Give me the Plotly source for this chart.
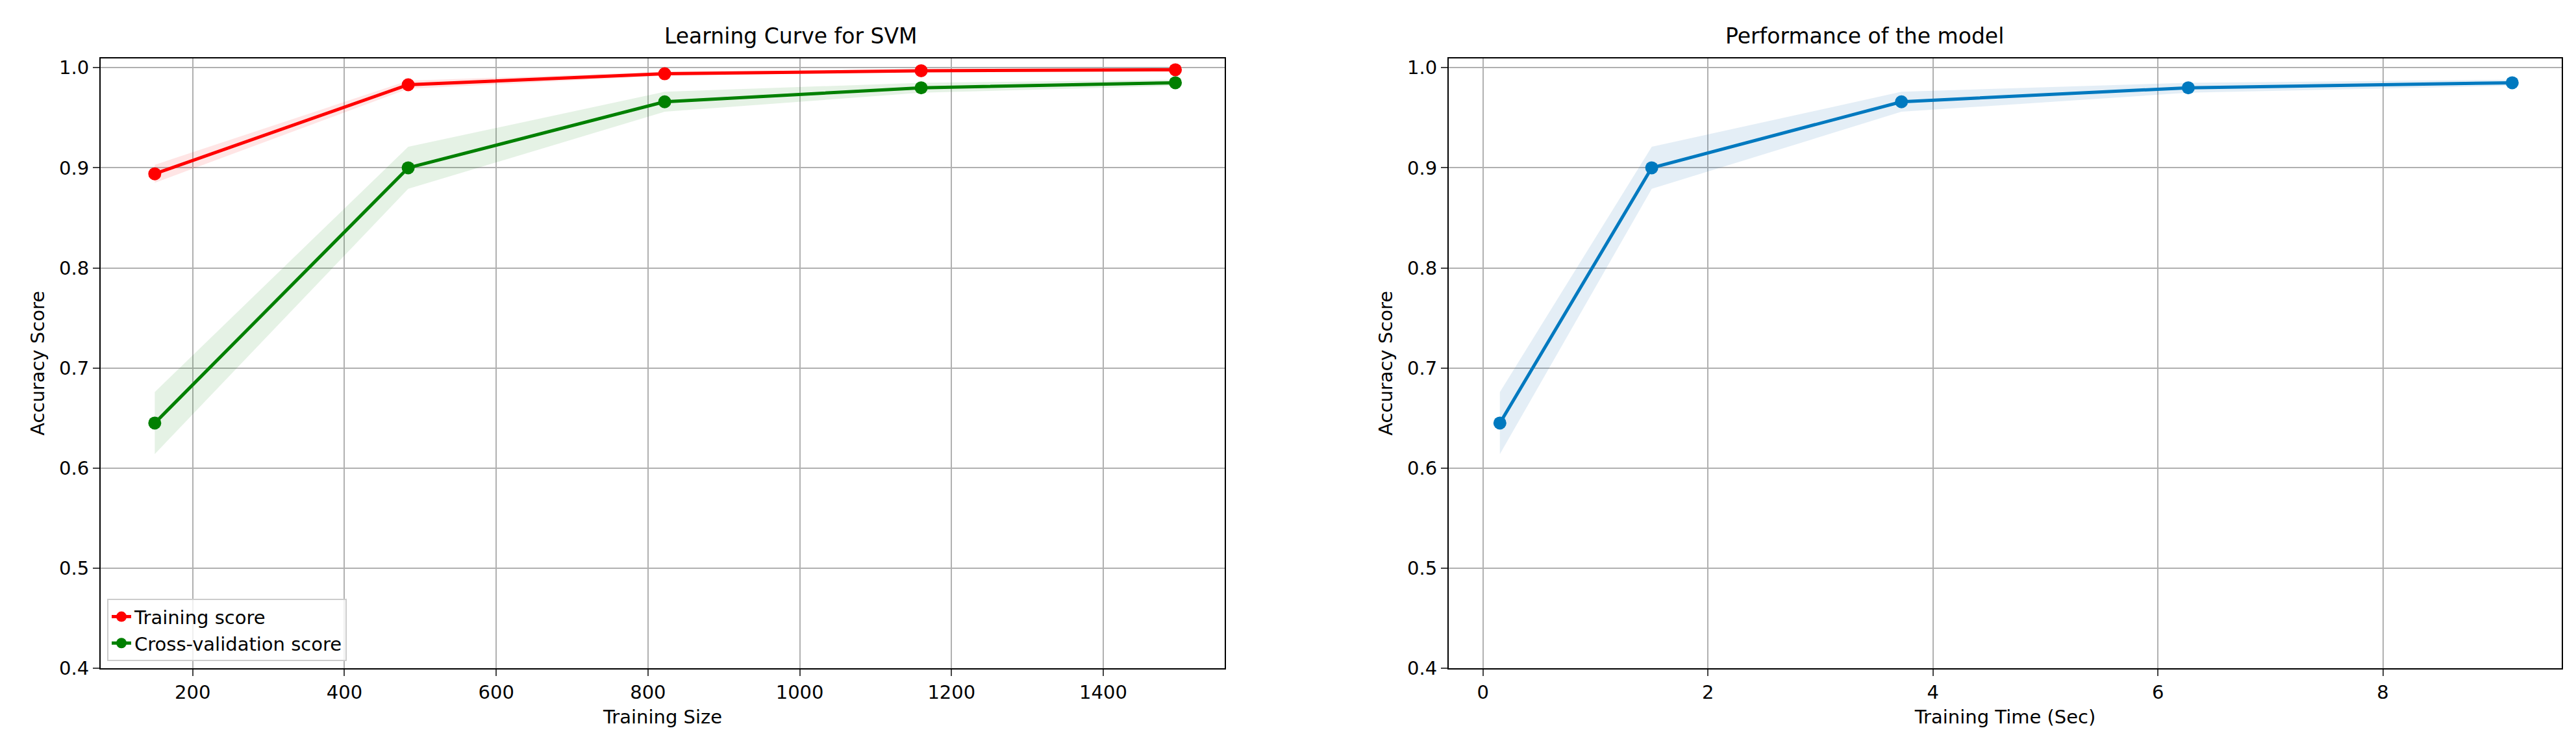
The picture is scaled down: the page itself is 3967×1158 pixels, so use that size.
import plotly.graph_objects as go

train_sizes = [150, 484, 822, 1160, 1495]
train_mean = [0.894, 0.983, 0.994, 0.997, 0.998]
train_std = [0.009, 0.004, 0.002, 0.001, 0.001]
cv_mean = [0.645, 0.900, 0.966, 0.980, 0.985]
cv_std = [0.031, 0.021, 0.010, 0.005, 0.003]
fit_times = [0.15, 1.50, 3.72, 6.27, 9.15]

W, H = 3967, 1158
F = "DejaVu Sans"
fig = go.Figure()

def band(x, m, s, color, xa, ya):
    up = [a + b for a, b in zip(m, s)]
    lo = [a - b for a, b in zip(m, s)]
    fig.add_trace(go.Scatter(x=x + x[::-1], y=up + lo[::-1], fill="toself", fillcolor=color, mode="lines",
                             line=dict(width=0), hoverinfo="skip", showlegend=False, xaxis=xa, yaxis=ya))

band(train_sizes, train_mean, train_std, "rgba(255,0,0,0.1)", "x", "y")
band(train_sizes, cv_mean, cv_std, "rgba(0,128,0,0.1)", "x", "y")
fig.add_trace(go.Scatter(x=train_sizes, y=train_mean, mode="lines+markers", name="Training score",
                         line=dict(color="red", width=5), marker=dict(size=20, color="red"), xaxis="x", yaxis="y"))
fig.add_trace(go.Scatter(x=train_sizes, y=cv_mean, mode="lines+markers", name="Cross-validation score",
                         line=dict(color="green", width=5), marker=dict(size=20, color="green"), xaxis="x", yaxis="y"))
band(fit_times, cv_mean, cv_std, "rgba(31,119,180,0.12)", "x2", "y2")
fig.add_trace(go.Scatter(x=fit_times, y=cv_mean, mode="lines+markers", showlegend=False,
                         line=dict(color="#0079bf", width=5), marker=dict(size=20, color="#0079bf"), xaxis="x2", yaxis="y2"))

ax = dict(showline=True, linecolor="black", linewidth=2, mirror=True, showgrid=True, gridcolor="#b0b0b0",
          gridwidth=2, ticks="outside", ticklen=10, tickwidth=2, zeroline=False,
          tickfont=dict(family=F, size=29, color="black"))
ttl = dict(font=dict(family=F, size=29, color="black"))
fig.update_layout(
    width=W, height=H, margin=dict(l=0, r=0, t=0, b=0), plot_bgcolor="white", paper_bgcolor="white",
    xaxis=dict(ax, domain=[147 / W, 1878 / W], range=[78.7, 1560], dtick=200, anchor="y",
               title=dict(ttl, text="Training Size", standoff=12)),
    yaxis=dict(ax, domain=[1 - 1036 / H, 1 - 81 / H], range=[0.4, 1.0095], dtick=0.1, tickformat=".1f", anchor="x",
               title=dict(ttl, text="Accuracy Score", standoff=14)),
    xaxis2=dict(ax, domain=[2223 / W, 3937 / W], range=[-0.305, 9.59], dtick=2, anchor="y2",
                title=dict(ttl, text="Training Time (Sec)", standoff=12)),
    yaxis2=dict(ax, domain=[1 - 1036 / H, 1 - 81 / H], range=[0.4, 1.0095], dtick=0.1, tickformat=".1f", anchor="x2",
                title=dict(ttl, text="Accuracy Score", standoff=14)),
    legend=dict(x=157 / W, y=1 - 1025 / H, xanchor="left", yanchor="bottom", bgcolor="rgba(255,255,255,0.8)",
                bordercolor="#cccccc", borderwidth=2, font=dict(family=F, size=29, color="black")),
    annotations=[
        dict(text="Learning Curve for SVM", x=(147 + 1878) / 2 / W, y=1 - 68 / H, xref="paper", yref="paper",
             showarrow=False, yanchor="bottom", font=dict(family=F, size=33, color="black")),
        dict(text="Performance of the model", x=(2223 + 3937) / 2 / W, y=1 - 68 / H, xref="paper", yref="paper",
             showarrow=False, yanchor="bottom", font=dict(family=F, size=33, color="black")),
    ],
)
fig.write_html("out.html")
